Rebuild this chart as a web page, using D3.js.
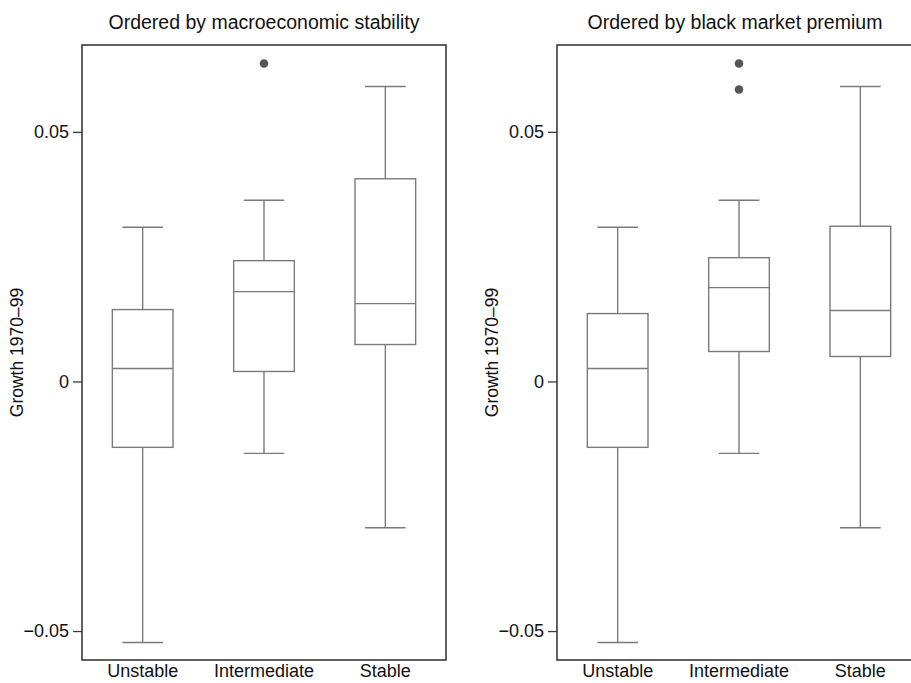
<!DOCTYPE html>
<html>
<head>
<meta charset="utf-8">
<script src="https://cdn.jsdelivr.net/npm/d3@7"></script>
<style>
  html, body { margin: 0; padding: 0; background: #fff; }
  text { font-family: "Liberation Sans", Arial, Helvetica, sans-serif; fill: #111; }
</style>
</head>
<body>
<svg id="chart" width="911" height="683"></svg>
<script>
// ---- data ----
const categories = ["Unstable", "Intermediate", "Stable"];
const panelTitles = ["Ordered by macroeconomic stability", "Ordered by black market premium"];
const yTickValues = [-0.05, 0, 0.05];
const yTickLabels = ["\u22120.05", "0", "0.05"];
const yAxisLabel = "Growth 1970\u201399";

// panel 1: macroeconomic stability  [lowerWhisker, Q1, median, Q3, upperWhisker]
const macroUnstable     = [-0.0523, -0.0132, 0.0026, 0.0144, 0.0309];
const macroIntermediate = [-0.0144,  0.0020, 0.0180, 0.0242, 0.0363];
const macroStable       = [-0.0293,  0.0074, 0.0156, 0.0406, 0.0591];
const macroOutliers     = [[], [0.0637], []];

// panel 2: black market premium
const bmpUnstable     = [-0.0523, -0.0132, 0.0026, 0.0136, 0.0309];
const bmpIntermediate = [-0.0144,  0.0060, 0.0188, 0.0248, 0.0363];
const bmpStable       = [-0.0293,  0.0050, 0.0142, 0.0311, 0.0591];
const bmpOutliers     = [[], [0.0637, 0.0585], []];

const panels = [
  { title: panelTitles[0], stats: [macroUnstable, macroIntermediate, macroStable], outliers: macroOutliers },
  { title: panelTitles[1], stats: [bmpUnstable, bmpIntermediate, bmpStable], outliers: bmpOutliers }
];

// ---- layout ----
const svg = d3.select("#chart");
const plotTop = 45, plotBottom = 660, panelW = 364;
const panelLefts = [82, 557];
const y = d3.scaleLinear().domain([-0.0558, 0.0674]).range([plotBottom, plotTop]);

const boxColor = "#7a7a7a";
const frameColor = "#3a3a3a";

panels.forEach((p, pi) => {
  const left = panelLefts[pi];
  const x = d3.scaleBand().domain(categories).range([left, left + panelW]).padding(0);
  const boxW = x.bandwidth() * 0.5;
  const capW = boxW * 0.67;
  const g = svg.append("g");

  // title
  g.append("text")
    .attr("x", left + panelW / 2 - pi * 4).attr("y", 29)
    .attr("text-anchor", "middle")
    .style("font-size", "19.5px")
    .text(p.title);

  // y axis
  const yAxis = d3.axisLeft(y).tickValues(yTickValues)
    .tickFormat((d, i) => yTickLabels[i]).tickSize(9).tickPadding(4);
  const ax = g.append("g").attr("transform", `translate(${left},0)`).call(yAxis);
  ax.select(".domain").remove();
  ax.selectAll(".tick line").attr("stroke", frameColor).attr("stroke-width", 1.3);
  ax.selectAll(".tick text").style("font-size", "18px").attr("fill", "#111")
    .style("font-family", '"Liberation Sans", Arial, sans-serif');

  // x axis labels
  const xAxis = d3.axisBottom(x).tickSize(0).tickPadding(4);
  const xa = g.append("g").attr("transform", `translate(0,${plotBottom})`).call(xAxis);
  xa.select(".domain").remove();
  xa.selectAll(".tick text").style("font-size", "18px").attr("fill", "#111")
    .style("font-family", '"Liberation Sans", Arial, sans-serif');

  // y label
  g.append("text")
    .attr("transform", `translate(${left - 59},${(plotTop + plotBottom) / 2}) rotate(-90)`)
    .attr("text-anchor", "middle")
    .style("font-size", "17.5px")
    .text(yAxisLabel);

  // boxes
  categories.forEach((c, ci) => {
    const s = p.stats[ci];
    const cx = x(c) + x.bandwidth() / 2;
    const bg = g.append("g").attr("stroke", boxColor).attr("stroke-width", 1.4).attr("fill", "none");
    bg.append("line").attr("x1", cx).attr("x2", cx).attr("y1", y(s[0])).attr("y2", y(s[1]));
    bg.append("line").attr("x1", cx).attr("x2", cx).attr("y1", y(s[3])).attr("y2", y(s[4]));
    bg.append("line").attr("x1", cx - capW / 2).attr("x2", cx + capW / 2).attr("y1", y(s[0])).attr("y2", y(s[0]));
    bg.append("line").attr("x1", cx - capW / 2).attr("x2", cx + capW / 2).attr("y1", y(s[4])).attr("y2", y(s[4]));
    bg.append("rect").attr("x", cx - boxW / 2).attr("width", boxW)
      .attr("y", y(s[3])).attr("height", y(s[1]) - y(s[3]));
    bg.append("line").attr("x1", cx - boxW / 2).attr("x2", cx + boxW / 2).attr("y1", y(s[2])).attr("y2", y(s[2]));
    g.selectAll(null).data(p.outliers[ci]).enter().append("circle")
      .attr("cx", cx).attr("cy", d => y(d)).attr("r", 4.3).attr("fill", "#555");
  });

  // frame
  g.append("rect").attr("x", left).attr("y", plotTop).attr("width", panelW).attr("height", plotBottom - plotTop)
    .attr("fill", "none").attr("stroke", frameColor).attr("stroke-width", 1.6);
});
</script>
</body>
</html>
